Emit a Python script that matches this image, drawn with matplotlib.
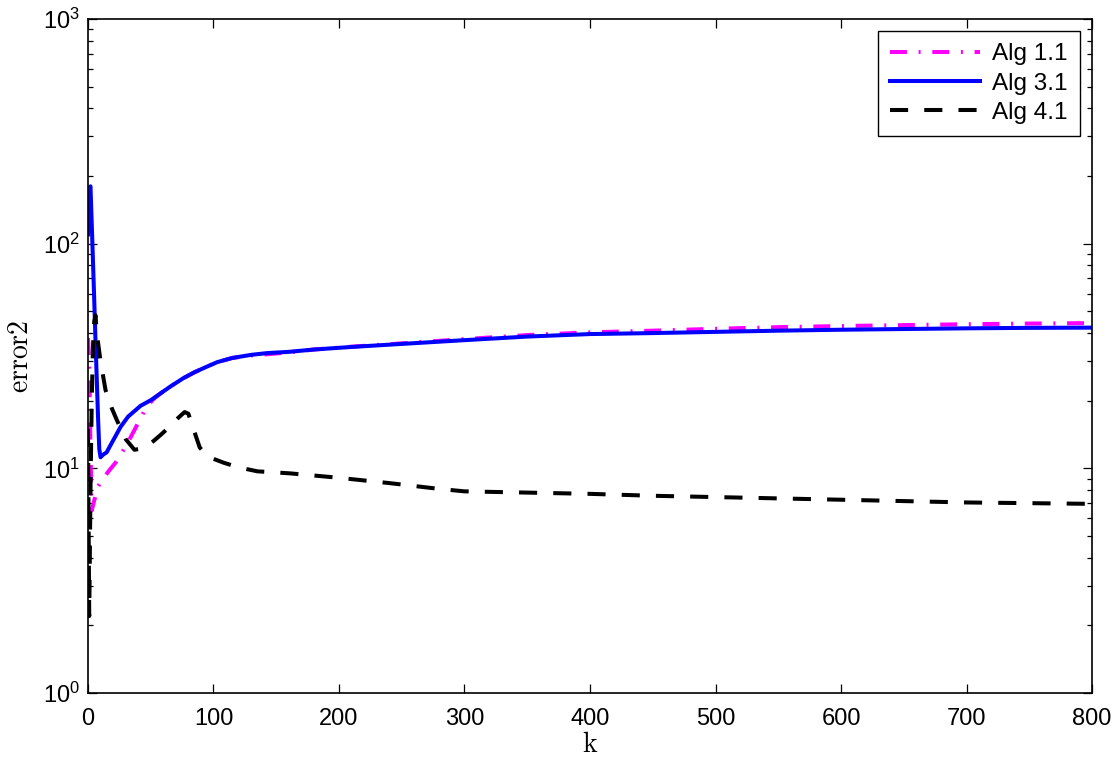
import numpy as np
import matplotlib
matplotlib.use("Agg")
from matplotlib import pyplot as plt
from matplotlib.ticker import LogLocator, NullFormatter

plt.rcParams['font.family'] = ['Liberation Sans', 'DejaVu Sans']
plt.rcParams['mathtext.fontset'] = 'cm'
plt.rcParams['mathtext.default'] = 'regular'

# Alg 3.1 (blue, solid)
k_blue = [0, 1, 2, 3, 4, 5, 6, 7, 8, 9, 10, 12, 15, 17, 20, 26, 32, 42, 50, 58, 66,
          76, 85, 95, 103, 115, 130, 143, 160, 180, 210, 250, 300, 350, 400, 450,
          500, 550, 600, 650, 700, 750, 800]
err_blue = [110, 175, 180, 123, 83, 56, 37, 25, 17, 12.2, 11.2, 11.5, 11.8, 12.4, 13.3,
            15.3, 17.0, 19.0, 20.1, 21.6, 23.2, 25.2, 26.8, 28.4, 29.7, 31.0, 32.0,
            32.6, 33.0, 33.8, 34.7, 35.8, 37.2, 38.6, 39.6, 40.0, 40.5, 41.0, 41.4,
            41.7, 42.0, 42.2, 42.3]

# Alg 1.1 (magenta, dash-dot)
k_mag = [0, 1, 2, 3, 5, 8, 12, 17, 22, 30, 37, 46, 52, 58, 66, 76, 85, 95, 103, 115,
         130, 143, 160, 180, 210, 250, 300, 350, 400, 450, 500, 550, 600, 650, 700,
         750, 800]
err_mag = [38, 30, 12, 6.5, 7.2, 8.3, 9.0, 9.8, 10.6, 12.5, 14.8, 18.5, 20.3, 21.6,
           23.2, 25.2, 26.8, 28.4, 29.7, 31.0, 31.8, 32.2, 32.8, 33.8, 34.8, 36.0,
           37.6, 39.2, 40.3, 41.0, 41.8, 42.5, 43.0, 43.4, 43.8, 44.1, 44.3]

# Alg 4.1 (black, dashed)
k_blk = [0, 1, 2, 3, 4, 5, 6, 7, 10, 14, 19, 23, 26, 30, 37, 45, 52, 58, 66, 72, 77,
         80, 84, 89, 95, 108, 120, 135, 161, 198, 240, 280, 300, 350, 400, 450, 500,
         550, 600, 650, 700, 750, 800]
err_blk = [15, 2.2, 8, 20, 35, 45, 48, 40, 30, 22.3, 18.5, 16.4, 15.1, 13.5, 12.1,
           12.3, 13.2, 14.1, 15.5, 16.8, 17.8, 17.5, 15.0, 12.4, 11.3, 10.6, 10.1,
           9.7, 9.5, 9.1, 8.6, 8.1, 7.9, 7.8, 7.7, 7.55, 7.45, 7.35, 7.25, 7.15,
           7.05, 7.0, 6.95]

xticks = [0, 100, 200, 300, 400, 500, 600, 700, 800]

fig = plt.figure(figsize=(11.15, 7.63), dpi=100)
ax = fig.add_axes([0.0789, 0.0917, 0.9005, 0.8834])

lw = 2.9
ax.plot(k_mag, err_mag, color='#FF00FF', lw=lw, linestyle=(0, (4.2, 2.9, 0.5, 2.9)),
        label='Alg 1.1')
ax.plot(k_blue, err_blue, color='#0000FF', lw=lw, label='Alg 3.1')
ax.plot(k_blk, err_blk, color='black', lw=lw, linestyle=(0, (4.5, 4.0)),
        label='Alg 4.1')

ax.set_yscale('log')
ax.set_xlim(0, 800)
ax.set_ylim(1, 1000)
ax.set_xticks(xticks)
ax.yaxis.set_major_locator(LogLocator(base=10, numticks=10))
ax.yaxis.set_minor_locator(LogLocator(base=10, subs=np.arange(2, 10), numticks=10))
ax.yaxis.set_minor_formatter(NullFormatter())

ax.tick_params(which='both', direction='in', top=True, right=True, labelsize=17,
               width=0.9)
ax.tick_params(which='major', length=6.5)
ax.tick_params(which='minor', length=3.3)
ax.tick_params(axis='x', which='major', pad=11)
ax.tick_params(axis='y', which='major', pad=6)
for s in ax.spines.values():
    s.set_linewidth(1.2)

ax.set_xlabel(r'$\mathrm{k}$', fontsize=20, labelpad=1)
ax.set_ylabel(r'$\mathrm{error2}$', fontsize=20, labelpad=6)

leg = ax.legend(loc='upper right', fontsize=17.5, fancybox=False, framealpha=1,
                edgecolor='black', handlelength=3.7, labelspacing=0.3,
                borderaxespad=0.5, borderpad=0.5, handletextpad=0.5)
leg.get_frame().set_linewidth(1.0)

fig.savefig('out.png', dpi=100)
